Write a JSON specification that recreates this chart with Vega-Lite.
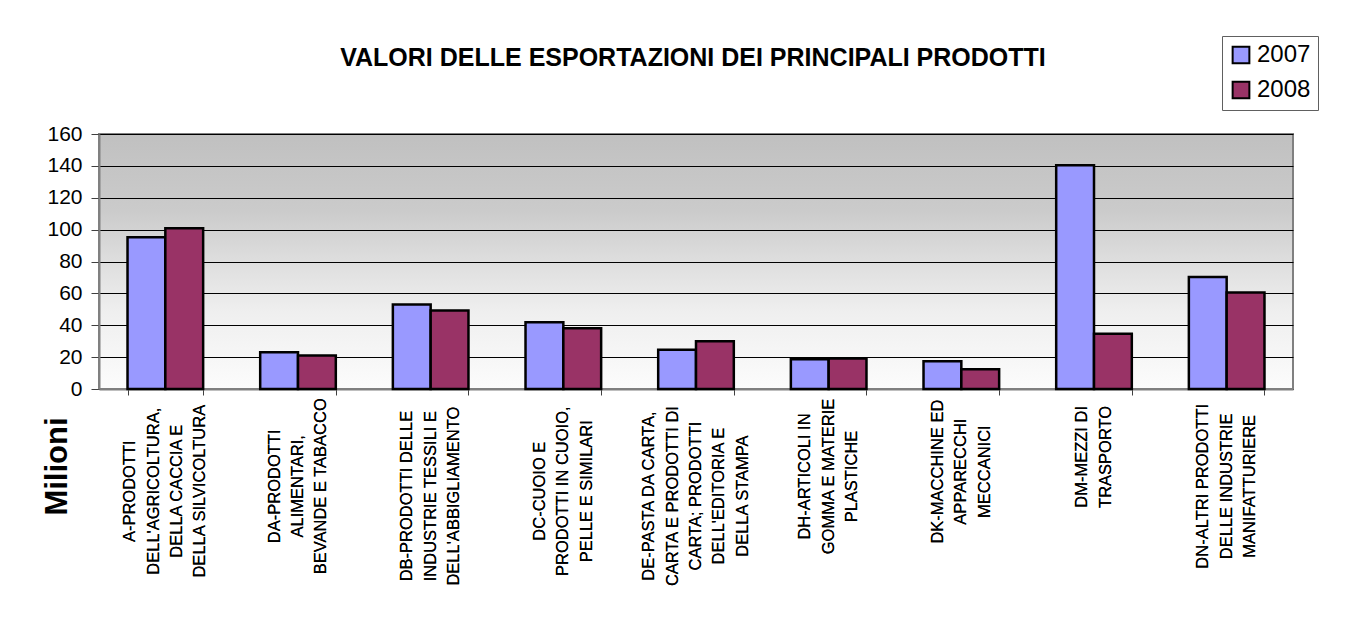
{
  "$schema": "https://vega.github.io/schema/vega-lite/v6.json",
  "autosize": "none",
  "width": 1194,
  "height": 255,
  "padding": {"left": 99, "top": 134, "right": 70, "bottom": 228},
  "background": "white",
  "title": {
    "text": "VALORI DELLE ESPORTAZIONI DEI PRINCIPALI PRODOTTI",
    "font": "Liberation Sans",
    "fontSize": 25,
    "fontWeight": "bold",
    "color": "black",
    "anchor": "middle",
    "baseline": "alphabetic",
    "offset": -55,
    "dx": -3
  },
  "view": {
    "stroke": "#808080",
    "strokeWidth": 2,
    "fill": {
      "gradient": "linear",
      "x1": 0, "y1": 0, "x2": 0, "y2": 1,
      "stops": [
        {"offset": 0, "color": "#c0c0c0"},
        {"offset": 0.3, "color": "#cbcbcb"},
        {"offset": 0.5, "color": "#dedede"},
        {"offset": 0.7, "color": "#efefef"},
        {"offset": 1, "color": "#fcfcfc"}
      ]
    }
  },
  "data": {
    "values": [
      {"cat": "A-PRODOTTI|DELL'AGRICOLTURA,|DELLA CACCIA E|DELLA SILVICOLTURA", "year": "2007", "value": 95.2},
      {"cat": "A-PRODOTTI|DELL'AGRICOLTURA,|DELLA CACCIA E|DELLA SILVICOLTURA", "year": "2008", "value": 100.8},
      {"cat": "DA-PRODOTTI|ALIMENTARI,|BEVANDE E TABACCO", "year": "2007", "value": 23.0},
      {"cat": "DA-PRODOTTI|ALIMENTARI,|BEVANDE E TABACCO", "year": "2008", "value": 21.0},
      {"cat": "DB-PRODOTTI DELLE|INDUSTRIE TESSILI E|DELL'ABBIGLIAMENTO", "year": "2007", "value": 53.0},
      {"cat": "DB-PRODOTTI DELLE|INDUSTRIE TESSILI E|DELL'ABBIGLIAMENTO", "year": "2008", "value": 49.2},
      {"cat": "DC-CUOIO E|PRODOTTI IN CUOIO,|PELLE E SIMILARI", "year": "2007", "value": 41.9},
      {"cat": "DC-CUOIO E|PRODOTTI IN CUOIO,|PELLE E SIMILARI", "year": "2008", "value": 38.1},
      {"cat": "DE-PASTA DA CARTA,|CARTA E PRODOTTI DI|CARTA; PRODOTTI|DELL'EDITORIA E|DELLA STAMPA", "year": "2007", "value": 24.6},
      {"cat": "DE-PASTA DA CARTA,|CARTA E PRODOTTI DI|CARTA; PRODOTTI|DELL'EDITORIA E|DELLA STAMPA", "year": "2008", "value": 30.0},
      {"cat": "DH-ARTICOLI IN|GOMMA E MATERIE|PLASTICHE", "year": "2007", "value": 18.7},
      {"cat": "DH-ARTICOLI IN|GOMMA E MATERIE|PLASTICHE", "year": "2008", "value": 19.1},
      {"cat": "DK-MACCHINE ED|APPARECCHI|MECCANICI", "year": "2007", "value": 17.4},
      {"cat": "DK-MACCHINE ED|APPARECCHI|MECCANICI", "year": "2008", "value": 12.4},
      {"cat": "DM-MEZZI DI|TRASPORTO", "year": "2007", "value": 140.4},
      {"cat": "DM-MEZZI DI|TRASPORTO", "year": "2008", "value": 34.6},
      {"cat": "DN-ALTRI PRODOTTI|DELLE INDUSTRIE|MANIFATTURIERE", "year": "2007", "value": 70.3},
      {"cat": "DN-ALTRI PRODOTTI|DELLE INDUSTRIE|MANIFATTURIERE", "year": "2008", "value": 60.6}
    ]
  },
  "encoding": {
    "x": {
      "field": "cat",
      "type": "nominal",
      "sort": null,
      "scale": {"paddingInner": 0.43, "paddingOuter": 0.215},
      "axis": {
        "title": null,
        "labels": false,
        "tickBand": "extent",
        "tickSize": 6,
        "tickColor": "#404040",
        "domainColor": "#808080",
        "domainWidth": 2,
        "grid": false
      }
    }
  },
  "layer": [
    {
      "mark": {"type": "bar", "stroke": "black", "strokeWidth": 2.5},
      "encoding": {
        "xOffset": {"field": "year", "type": "nominal"},
        "y": {
          "field": "value",
          "type": "quantitative",
          "scale": {"domain": [0, 160], "nice": false},
          "axis": {
            "values": [0, 20, 40, 60, 80, 100, 120, 140, 160],
            "title": "Milioni",
            "titleFont": "Liberation Sans",
            "titleFontSize": 31,
            "titleFontWeight": "bold",
            "titleColor": "black",
            "titleAngle": 270,
            "titleAlign": "center",
            "titleBaseline": "middle",
            "titleX": -42,
            "titleY": 332,
            "labelFont": "Liberation Sans",
            "labelFontSize": 21,
            "labelColor": "black",
            "labelPadding": 9,
            "labelOverlap": false,
            "tickSize": 8,
            "tickColor": "#404040",
            "domainColor": "#808080",
            "domainWidth": 2,
            "grid": true,
            "gridColor": "#000000",
            "gridWidth": 1
          }
        },
        "color": {
          "field": "year",
          "type": "nominal",
          "scale": {"domain": ["2007", "2008"], "range": ["#9999FF", "#993366"]},
          "legend": {
            "title": null,
            "orient": "none",
            "legendX": 1123,
            "legendY": -98,
            "strokeColor": "#606060",
            "padding": 7,
            "symbolType": "square",
            "symbolSize": 280,
            "symbolStrokeColor": "black",
            "symbolStrokeWidth": 2,
            "labelFont": "Liberation Sans",
            "labelFontSize": 24,
            "labelColor": "black",
            "labelOffset": 4,
            "rowPadding": 9
          }
        }
      }
    },
    {
      "mark": {
        "type": "text",
        "font": "Liberation Sans",
        "fontSize": 16.5,
        "lineHeight": 23.3,
        "lineBreak": "|",
        "angle": 270,
        "align": "center",
        "baseline": "middle",
        "color": "black",
        "dx": {"expr": "-(14 + 4.9 * max(length(split(datum.cat, '|')[0] || ''), length(split(datum.cat, '|')[1] || ''), length(split(datum.cat, '|')[2] || ''), length(split(datum.cat, '|')[3] || ''), length(split(datum.cat, '|')[4] || '')))"},
        "dy": {"expr": "-(length(split(datum.cat, '|')) - 1) * 23.3 / 2"}
      },
      "encoding": {
        "y": {"value": "height"},
        "text": {"field": "cat", "type": "nominal"}
      }
    }
  ],
  "config": {
    "font": "Liberation Sans"
  }
}
